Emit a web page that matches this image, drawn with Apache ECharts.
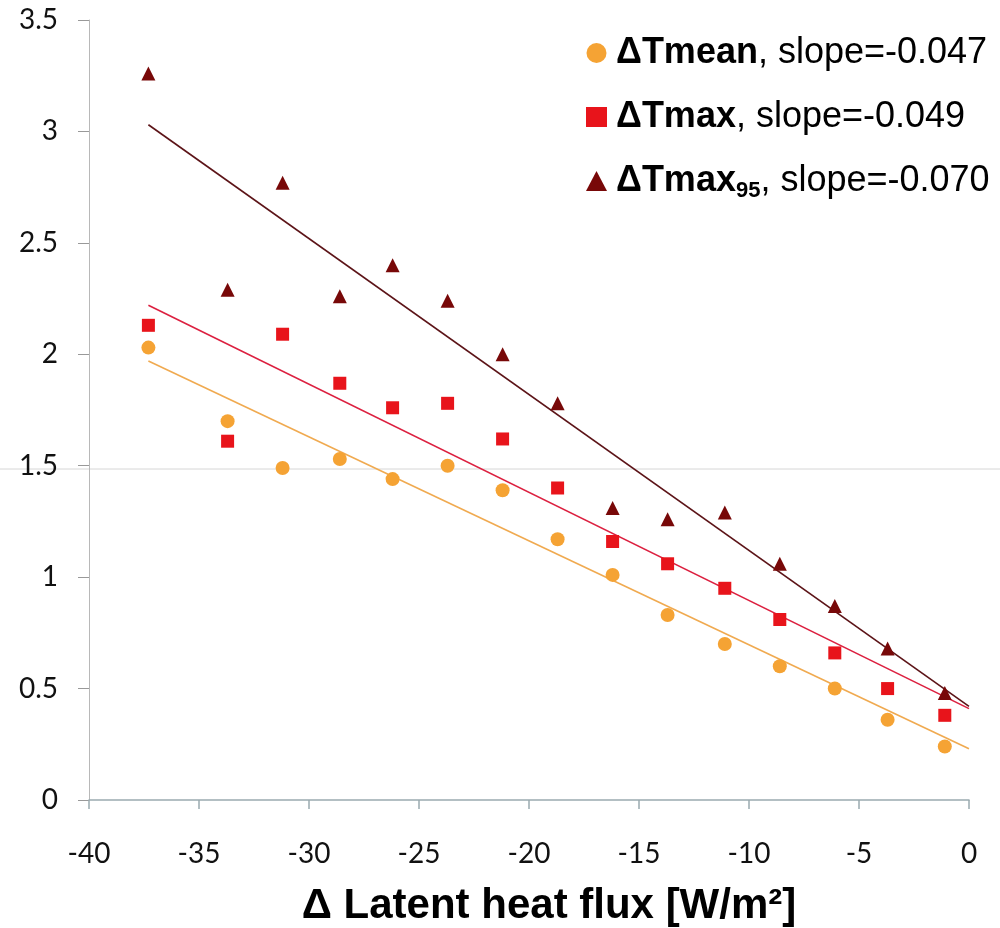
<!DOCTYPE html>
<html>
<head>
<meta charset="utf-8">
<script src="https://cdn.jsdelivr.net/npm/echarts@6/dist/echarts.min.js"></script>
<style>
html,body{margin:0;padding:0;background:#fff;}
#chart{width:1000px;height:928px;}
</style>
</head>
<body>
<div id="chart"></div>
<script>
// Data
var xValues = [-37.3, -33.7, -31.2, -28.6, -26.2, -23.7, -21.2, -18.7, -16.2, -13.7, -11.1, -8.6, -6.1, -3.7, -1.1];
var tMean   = [2.03, 1.70, 1.49, 1.53, 1.44, 1.50, 1.39, 1.17, 1.01, 0.83, 0.70, 0.60, 0.50, 0.36, 0.24];
var tMax    = [2.13, 1.61, 2.09, 1.87, 1.76, 1.78, 1.62, 1.40, 1.16, 1.06, 0.95, 0.81, 0.66, 0.50, 0.38];
var tMax95  = [3.26, 2.29, 2.77, 2.26, 2.40, 2.24, 2.00, 1.78, 1.31, 1.26, 1.29, 1.06, 0.87, 0.68, 0.48];
var trendX      = [-37.3, 0];
var trendMean   = [1.97, 0.23];
var trendMax    = [2.22, 0.41];
var trendMax95  = [3.03, 0.42];
var seriesNames = ['ΔTmean', 'ΔTmax', 'ΔTmax95'];
var slopeLabels = ['-0.047', '-0.049', '-0.070'];
var xTicks = [-40, -35, -30, -25, -20, -15, -10, -5, 0];
var yTicks = [0, 0.5, 1, 1.5, 2, 2.5, 3, 3.5];

function pts(xs, ys){ return xs.map(function(x,i){ return [x, ys[i]]; }); }

var colors = { mean:'#f5a334', max:'#e8141b', max95:'#780808' };
var lineColors = { mean:'#f0aa50', max:'#dc2040', max95:'#5c1418' };

var chart = echarts.init(document.getElementById('chart'), null, {renderer:'canvas'});
var option = {
  backgroundColor:'#fff',
  animation:false,
  grid:{left:89, right:31, top:20, bottom:128, containLabel:false, outerBoundsMode:'none'},
  xAxis:{
    type:'value', min:xTicks[0], max:xTicks[xTicks.length-1], interval:5,
    name:'Δ Latent heat flux [W/m²]', nameLocation:'middle', nameGap:85,
    nameTextStyle:{fontFamily:'Liberation Sans', fontWeight:'bold', fontSize:42, color:'#000', padding:[0,0,0,40]},
    axisLine:{show:true, onZero:false, lineStyle:{color:'#9aabb0', width:1.5}},
    axisTick:{show:true, inside:false, length:9, lineStyle:{color:'#9aabb0', width:1.5}},
    axisLabel:{fontFamily:'Lato', fontSize:28, color:'#111', margin:40},
    splitLine:{show:false}
  },
  yAxis:{
    type:'value', min:yTicks[0], max:yTicks[yTicks.length-1], interval:0.5,
    axisLine:{show:true, onZero:false, lineStyle:{color:'#b8b8b8', width:1}},
    axisTick:{show:true, inside:false, length:11, lineStyle:{color:'#999', width:1}},
    axisLabel:{fontFamily:'Lato', fontSize:28, color:'#111', margin:31},
    splitLine:{show:false}
  },
  legend:{
    orient:'vertical', left:581, top:30, itemGap:28,
    itemWidth:21, itemHeight:20,
    data:[{name:seriesNames[0], icon:'circle'},{name:seriesNames[1], icon:'rect'},{name:seriesNames[2], icon:'triangle'}],
    formatter:function(name){
      var i = seriesNames.indexOf(name);
      if(i===2) return '{b|ΔTmax}{s|95}{n|, slope=' + slopeLabels[i] + '}';
      return '{b|' + name + '}{n|, slope=' + slopeLabels[i] + '}';
    },
    textStyle:{
      fontFamily:'Liberation Sans', fontSize:36, color:'#000', padding:[0,0,0,4],
      rich:{
        b:{fontFamily:'Liberation Sans', fontWeight:'bold', fontSize:36, color:'#000'},
        n:{fontFamily:'Liberation Sans', fontSize:36, color:'#000'},
        s:{fontFamily:'Liberation Sans', fontWeight:'bold', fontSize:22, color:'#000', padding:[20,0,0,0]}
      }
    }
  },
  graphic:[{
    type:'line', silent:true, z:-1,
    shape:{x1:0, y1:469, x2:1000, y2:469},
    style:{stroke:'#d6d6d6', lineWidth:1}
  }],
  series:[
    {type:'line', data:pts(trendX, trendMean), symbol:'none', lineStyle:{color:lineColors.mean, width:1.6}, z:2, silent:true},
    {type:'line', data:pts(trendX, trendMax), symbol:'none', lineStyle:{color:lineColors.max, width:1.6}, z:2, silent:true},
    {type:'line', data:pts(trendX, trendMax95), symbol:'none', lineStyle:{color:lineColors.max95, width:1.6}, z:2, silent:true},
    {name:seriesNames[0], type:'scatter', symbol:'circle', symbolSize:14, data:pts(xValues, tMean), itemStyle:{color:colors.mean, opacity:1}, z:3},
    {name:seriesNames[1], type:'scatter', symbol:'rect', symbolSize:13, data:pts(xValues, tMax), itemStyle:{color:colors.max, opacity:1}, z:3},
    {name:seriesNames[2], type:'scatter', symbol:'triangle', symbolSize:14, data:pts(xValues, tMax95), itemStyle:{color:colors.max95, opacity:1}, z:3}
  ]
};
chart.setOption(option);
</script>
</body>
</html>
